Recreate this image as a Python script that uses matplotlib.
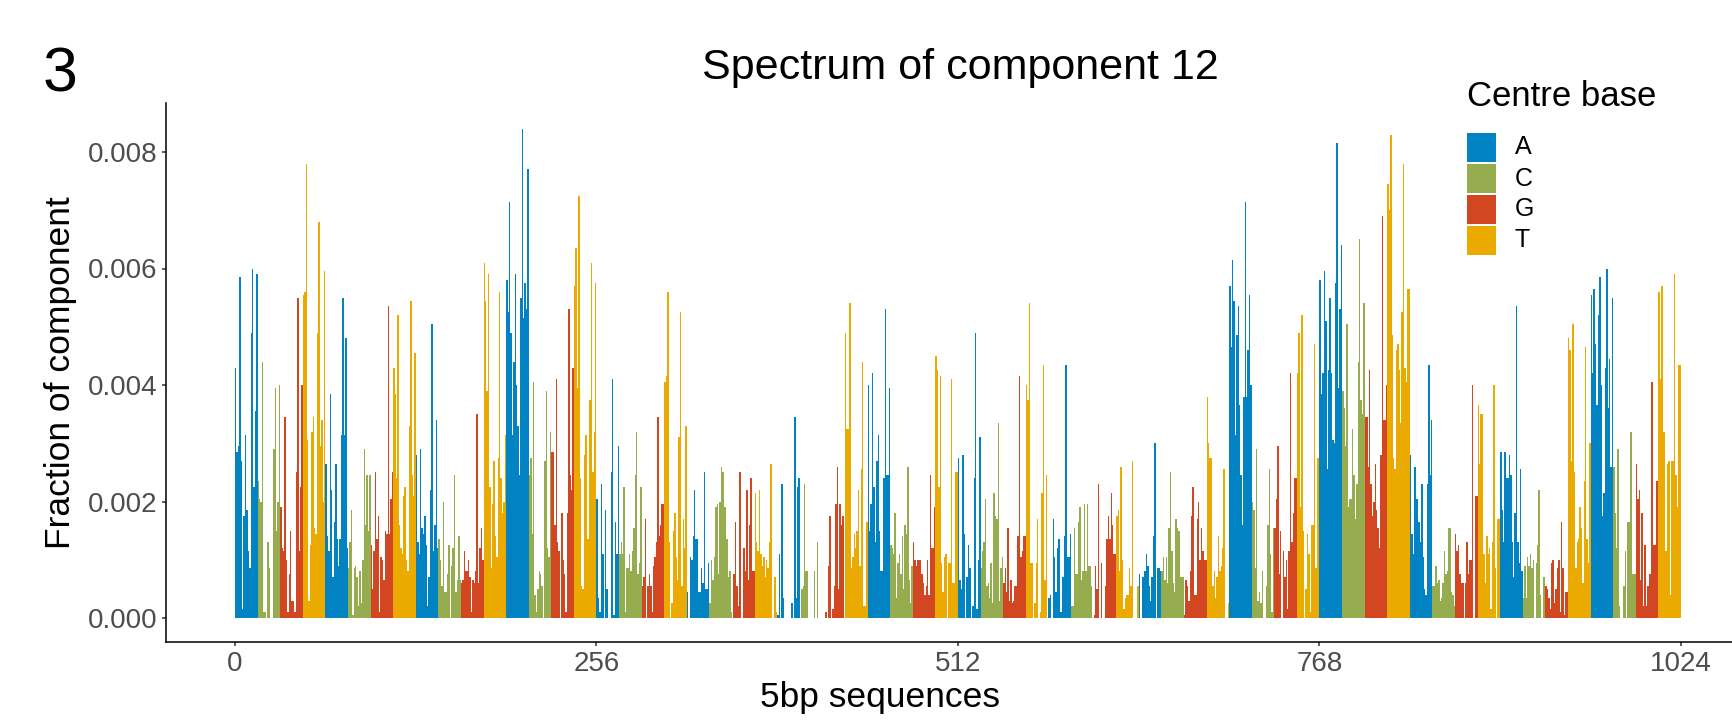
import itertools
import numpy as np
import matplotlib
matplotlib.use('Agg')
import matplotlib.pyplot as plt
from matplotlib.patches import Rectangle

# fraction of component (units of 1e-3), 5-mers in lexicographic order,
# split by first base; every run of 16 shares the same centre base
first_A = [
    4.3, 2.85, 2.95, 5.85, 2.7, 0.15, 1.75, 3.15, 1.85, 1.15, 0.85, 4.9, 6.0, 2.25, 3.55, 5.9,
    2.35, 2.05, 2.0, 4.4, 0.1, 0.1, 0.0, 1.3, 0.85, 0.0, 0.0, 2.9, 3.95, 1.5, 2.0, 4.0,
    1.9, 1.2, 1.15, 3.45, 1.0, 0.1, 0.75, 1.5, 0.3, 0.3, 0.1, 2.5, 5.5, 1.15, 2.25, 4.0,
    5.55, 5.6, 7.8, 3.05, 0.3, 1.25, 3.2, 3.45, 1.55, 1.45, 4.9, 6.8, 2.95, 3.4, 2.0, 5.95,
    2.65, 1.4, 1.15, 3.85, 2.2, 0.7, 1.65, 2.65, 1.35, 0.9, 1.35, 3.15, 5.5, 3.15, 4.8, 1.2,
    0.85, 1.3, 1.85, 0.05, 0.85, 0.9, 0.7, 0.2, 0.8, 0.25, 1.0, 2.9, 1.6, 2.45, 1.5, 2.45,
    1.25, 0.5, 1.15, 2.5, 1.35, 1.75, 0.1, 1.05, 1.0, 0.65, 1.5, 1.45, 5.35, 1.45, 2.05, 2.5,
    4.3, 3.85, 2.4, 5.2, 1.6, 1.2, 1.1, 2.1, 2.25, 1.0, 0.8, 3.3, 5.45, 2.45, 2.1, 4.55,
    2.8, 1.3, 1.1, 2.9, 1.55, 1.45, 1.75, 1.25, 0.2, 0.7, 2.2, 5.05, 1.15, 1.6, 3.4, 1.2,
    1.35, 1.0, 0.55, 2.0, 0.45, 0.45, 0.75, 1.25, 0.0, 0.9, 1.2, 2.45, 0.45, 0.65, 1.4, 0.65,
    0.6, 0.65, 1.15, 0.8, 0.8, 1.0, 0.7, 0.1, 0.65, 0.6, 0.8, 3.5, 0.6, 1.2, 1.55, 1.0,
    6.1, 5.45, 3.9, 5.9, 2.25, 0.85, 1.95, 2.7, 1.4, 1.05, 2.75, 5.6, 2.4, 1.8, 2.0, 3.15,
    5.8, 5.25, 7.15, 4.9, 3.15, 4.4, 5.9, 4.0, 3.3, 2.45, 5.5, 8.4, 5.15, 5.75, 5.3, 7.7,
    2.45, 2.75, 1.45, 4.05, 0.4, 0.1, 0.5, 0.8, 0.75, 0.55, 0.0, 2.7, 3.9, 1.2, 1.05, 3.2,
    2.85, 2.85, 1.6, 4.1, 1.3, 1.15, 0.0, 1.8, 1.0, 0.75, 0.1, 1.8, 5.3, 2.45, 2.2, 4.3,
    5.7, 6.35, 3.95, 7.25, 2.4, 0.55, 0.5, 2.8, 3.15, 1.35, 1.35, 3.75, 6.1, 2.5, 3.2, 5.75,
]
first_C = [
    2.05, 0.35, 0.1, 2.3, 1.1, 0.0, 1.85, 0.5, 0.0, 0.0, 2.5, 4.1, 0.05, 1.65, 1.1, 2.95,
    1.1, 1.3, 1.1, 2.25, 0.1, 0.85, 0.85, 1.1, 0.8, 1.15, 1.55, 2.45, 3.2, 0.75, 0.95, 2.25,
    0.55, 0.7, 1.7, 0.0, 0.55, 0.75, 0.55, 0.1, 0.9, 1.05, 1.3, 3.45, 1.4, 1.6, 1.95, 1.95,
    4.05, 4.15, 5.6, 1.3, 0.0, 0.25, 1.5, 1.8, 1.05, 0.65, 3.1, 5.25, 0.55, 1.7, 1.2, 3.3,
    0.45, 0.0, 1.05, 1.0, 1.4, 2.2, 1.35, 1.35, 0.45, 0.45, 0.85, 0.6, 2.5, 0.5, 0.5, 0.95,
    0.25, 1.0, 0.65, 1.05, 1.9, 1.95, 0.75, 2.0, 2.6, 2.5, 1.9, 1.9, 1.35, 0.7, 0.8, 0.1,
    0.0, 0.75, 1.65, 0.55, 0.2, 2.5, 0.0, 0.0, 1.2, 0.8, 2.2, 0.65, 1.6, 2.4, 0.8, 0.8,
    2.15, 1.3, 1.15, 2.2, 1.1, 0.9, 1.05, 0.7, 1.0, 0.85, 1.3, 2.65, 0.0, 0.0, 0.7, 0.1,
    0.05, 1.1, 0.0, 2.3, 0.35, 0.0, 0.0, 0.0, 0.0, 0.0, 0.25, 0.0, 3.45, 0.35, 2.25, 2.4,
    0.0, 0.5, 0.55, 2.3, 0.8, 0.8, 0.0, 0.0, 0.0, 0.0, 0.8, 0.0, 1.3, 0.0, 0.0, 0.0,
    0.0, 0.0, 0.1, 0.0, 0.9, 1.75, 0.0, 0.15, 0.55, 1.95, 2.6, 0.5, 1.95, 1.6, 1.75, 0.0,
    4.9, 3.25, 3.25, 5.4, 0.85, 1.05, 1.45, 1.2, 1.5, 2.2, 0.9, 2.55, 4.4, 0.2, 0.2, 1.65,
    4.0, 1.5, 1.95, 4.2, 2.25, 1.3, 2.7, 3.15, 1.5, 0.8, 0.8, 2.4, 5.3, 2.45, 2.45, 3.95,
    1.25, 1.2, 1.1, 1.8, 0.35, 0.95, 1.1, 0.75, 1.4, 0.5, 1.6, 1.45, 2.6, 0.65, 0.25, 0.9,
    1.3, 1.0, 0.9, 1.0, 1.0, 1.0, 0.75, 0.6, 0.4, 0.55, 1.0, 0.4, 2.45, 1.2, 1.2, 1.9,
    4.5, 4.25, 2.25, 4.15, 0.95, 0.45, 1.05, 1.1, 0.0, 0.95, 0.95, 4.1, 0.6, 0.6, 2.5, 2.5,
]
first_G = [
    2.75, 0.65, 0.5, 2.8, 1.45, 0.0, 0.7, 1.25, 0.85, 0.0, 0.2, 2.4, 4.9, 0.15, 1.0, 3.1,
    0.85, 1.15, 1.3, 2.05, 0.55, 0.6, 0.35, 0.95, 0.25, 2.15, 1.75, 1.7, 3.35, 0.3, 0.85, 1.05,
    0.6, 0.85, 0.45, 1.55, 0.3, 0.65, 0.25, 0.3, 0.55, 0.55, 1.4, 4.15, 1.05, 1.15, 1.4, 1.4,
    4.0, 3.75, 5.4, 0.95, 0.95, 0.0, 0.25, 0.95, 1.7, 0.0, 0.1, 2.15, 4.35, 0.65, 2.45, 0.0,
    0.35, 0.4, 0.0, 1.7, 1.05, 0.45, 1.2, 1.35, 0.1, 0.1, 0.7, 1.4, 4.35, 1.05, 1.05, 1.45,
    0.2, 0.2, 1.55, 0.75, 0.75, 1.65, 1.9, 0.65, 0.8, 1.95, 0.8, 1.95, 0.9, 0.9, 0.55, 0.0,
    0.05, 0.9, 0.5, 2.3, 0.0, 0.95, 0.0, 0.0, 0.55, 1.35, 1.75, 1.35, 2.15, 1.6, 1.1, 1.1,
    1.75, 1.85, 0.8, 2.6, 1.0, 0.15, 0.35, 0.4, 0.4, 0.85, 0.55, 2.7, 0.0, 0.0, 0.0, 0.55,
    0.75, 0.0, 0.7, 0.7, 0.8, 1.1, 0.9, 0.55, 0.3, 0.7, 1.4, 3.0, 0.0, 0.85, 0.85, 0.8,
    0.8, 1.05, 0.65, 1.05, 0.6, 1.55, 2.5, 1.15, 0.6, 0.45, 1.7, 1.55, 1.5, 0.7, 0.7, 0.7,
    0.05, 0.65, 0.55, 0.3, 0.8, 1.75, 2.25, 0.4, 0.4, 1.7, 2.0, 1.0, 1.55, 1.15, 1.0, 1.0,
    3.8, 3.0, 2.75, 2.75, 0.55, 0.8, 0.35, 0.7, 1.4, 0.8, 0.9, 1.2, 2.55, 0.0, 0.0, 0.25,
    5.7, 4.65, 6.15, 5.45, 3.15, 4.85, 5.35, 3.65, 2.45, 1.6, 3.8, 7.15, 3.8, 4.6, 5.55, 4.0,
    2.0, 1.85, 0.85, 2.9, 0.3, 0.45, 0.25, 0.8, 0.0, 0.0, 0.55, 1.6, 2.55, 1.1, 0.1, 1.55,
    1.55, 2.05, 2.95, 0.75, 1.5, 0.0, 1.15, 0.7, 1.0, 0.15, 1.15, 4.2, 1.3, 1.8, 2.4, 2.4,
    4.2, 4.9, 1.9, 5.2, 1.5, 0.0, 0.5, 1.45, 1.1, 0.1, 1.6, 1.6, 4.7, 0.85, 2.75, 2.75,
]
first_T = [
    5.8, 3.85, 4.2, 5.95, 5.1, 2.55, 4.25, 5.5, 4.2, 3.05, 3.0, 5.75, 8.15, 3.95, 5.3, 6.4,
    3.9, 3.6, 2.95, 5.05, 1.9, 2.05, 2.05, 3.25, 2.45, 1.7, 2.3, 4.4, 6.5, 3.75, 3.5, 5.4,
    3.45, 3.45, 2.6, 4.25, 2.3, 1.75, 2.0, 2.65, 1.85, 1.55, 1.2, 2.8, 6.9, 3.4, 3.4, 4.0,
    7.45, 7.0, 8.3, 4.85, 2.75, 2.55, 4.6, 4.7, 4.25, 3.35, 5.25, 7.8, 4.3, 4.05, 5.65, 5.65,
    2.8, 1.45, 1.1, 2.6, 2.05, 2.05, 1.65, 1.3, 2.3, 1.05, 0.5, 0.4, 2.3, 4.35, 2.45, 3.4,
    0.55, 0.55, 0.9, 0.6, 0.65, 0.3, 0.35, 0.6, 1.15, 0.75, 0.8, 1.55, 1.55, 0.45, 0.4, 0.2,
    1.45, 1.15, 1.25, 0.75, 0.6, 0.6, 0.0, 0.6, 1.3, 0.75, 1.0, 1.0, 4.0, 0.0, 2.1, 2.1,
    3.65, 2.65, 3.5, 3.5, 1.1, 0.6, 1.4, 1.1, 1.2, 0.15, 1.3, 4.0, 0.85, 0.0, 1.7, 1.7,
    2.85, 1.85, 1.3, 2.85, 2.4, 2.4, 2.8, 2.45, 1.3, 0.7, 1.8, 5.35, 1.3, 0.95, 2.55, 0.8,
    0.35, 0.9, 0.35, 1.05, 0.9, 1.1, 0.85, 1.0, 0.0, 0.95, 1.25, 2.2, 0.4, 0.0, 0.7, 0.7,
    0.55, 0.5, 0.35, 0.15, 0.95, 1.0, 0.25, 0.5, 0.85, 1.0, 0.1, 1.65, 0.85, 0.05, 0.45, 0.45,
    4.8, 4.6, 2.7, 5.05, 2.5, 0.85, 1.3, 1.35, 1.9, 1.55, 0.6, 2.35, 4.65, 1.35, 0.95, 3.0,
    5.55, 4.2, 5.65, 4.7, 3.65, 5.2, 5.85, 4.0, 1.75, 2.15, 4.3, 6.0, 3.6, 4.45, 2.6, 5.5,
    2.6, 1.8, 1.2, 2.9, 0.2, 0.0, 0.0, 0.55, 1.15, 0.0, 1.65, 1.65, 3.2, 0.75, 0.75, 0.75,
    2.65, 2.05, 2.2, 0.65, 1.8, 0.2, 1.25, 0.2, 0.55, 0.75, 0.75, 4.05, 1.25, 1.25, 2.35, 2.35,
    5.6, 4.1, 5.7, 3.2, 3.2, 1.15, 2.65, 2.7, 0.4, 2.7, 2.7, 5.9, 2.45, 1.9, 4.35, 4.35,
]

bases = ['A', 'C', 'G', 'T']
base_colors = {'A': '#0082C3', 'C': '#95AD4F', 'G': '#D24722', 'T': '#EAAA00'}
xticks = [0, 256, 512, 768, 1024]
yticks = [0.0, 0.002, 0.004, 0.006, 0.008]

kmers = [''.join(p) for p in itertools.product(bases, repeat=5)]
centre = [k[2] for k in kmers]
frac = np.array(first_A + first_C + first_G + first_T) * 1e-3
pos = np.arange(1, len(kmers) + 1)

plt.rcParams['font.family'] = ['Liberation Sans', 'DejaVu Sans']

W, H = 1733, 728
fig = plt.figure(figsize=(W / 100, H / 100), dpi=100)

# pixel geometry of the panel
x0_px, pxu = 235.0, (1681.0 - 235.0) / 1024
xlo, xhi = -49, 1074
ylo, yhi = -0.00042, 0.00884
y0_px, pyu = 618.0, (618.0 - 152.0) / 0.008
left = x0_px + xlo * pxu
right = x0_px + xhi * pxu
bottom = y0_px - ylo * pyu
top = y0_px - yhi * pyu
ax = fig.add_axes([left / W, 1 - bottom / H, (right - left) / W, (bottom - top) / H])

ax.bar(pos - 0.5, frac, width=1.0, color=[base_colors[c] for c in centre],
       linewidth=0, antialiased=False)

ax.set_xlim(xlo, xhi)
ax.set_ylim(ylo, yhi)
ax.set_xticks(xticks)
ax.set_yticks(yticks)
ax.set_yticklabels(['{:.3f}'.format(v) for v in yticks])
for s in ['top', 'right']:
    ax.spines[s].set_visible(False)
for s in ['left', 'bottom']:
    ax.spines[s].set_linewidth(1.1)
    ax.spines[s].set_color('black')
ax.tick_params(length=3, width=1.1, color='#333333', labelsize=20,
               labelcolor='#4D4D4D', pad=3)

fig.text(960 / W, 1 - 68 / H, 'Spectrum of component 12', fontsize=31,
         ha='center', va='center')
fig.text(43 / W, 1 - 91 / H, '3', fontsize=45, ha='left', va='baseline')
fig.text(61 / W, 1 - 373 / H, 'Fraction of component', fontsize=25.5,
         rotation=90, ha='center', va='center')
fig.text(880 / W, 1 - 698 / H, '5bp sequences', fontsize=25.5,
         ha='center', va='center')

# legend
fig.text(1467 / W, 1 - 97 / H, 'Centre base', fontsize=25, ha='left', va='center')
for k, b in enumerate(bases):
    ytop = 133 + 31 * k
    fig.add_artist(Rectangle((1467 / W, 1 - (ytop + 29) / H), 29 / W, 29 / H,
                             transform=fig.transFigure, color=base_colors[b], lw=0))
    fig.text(1515 / W, 1 - (ytop + 14.5) / H, b, fontsize=18, ha='left', va='center')

fig.savefig('out.png', dpi=100)
